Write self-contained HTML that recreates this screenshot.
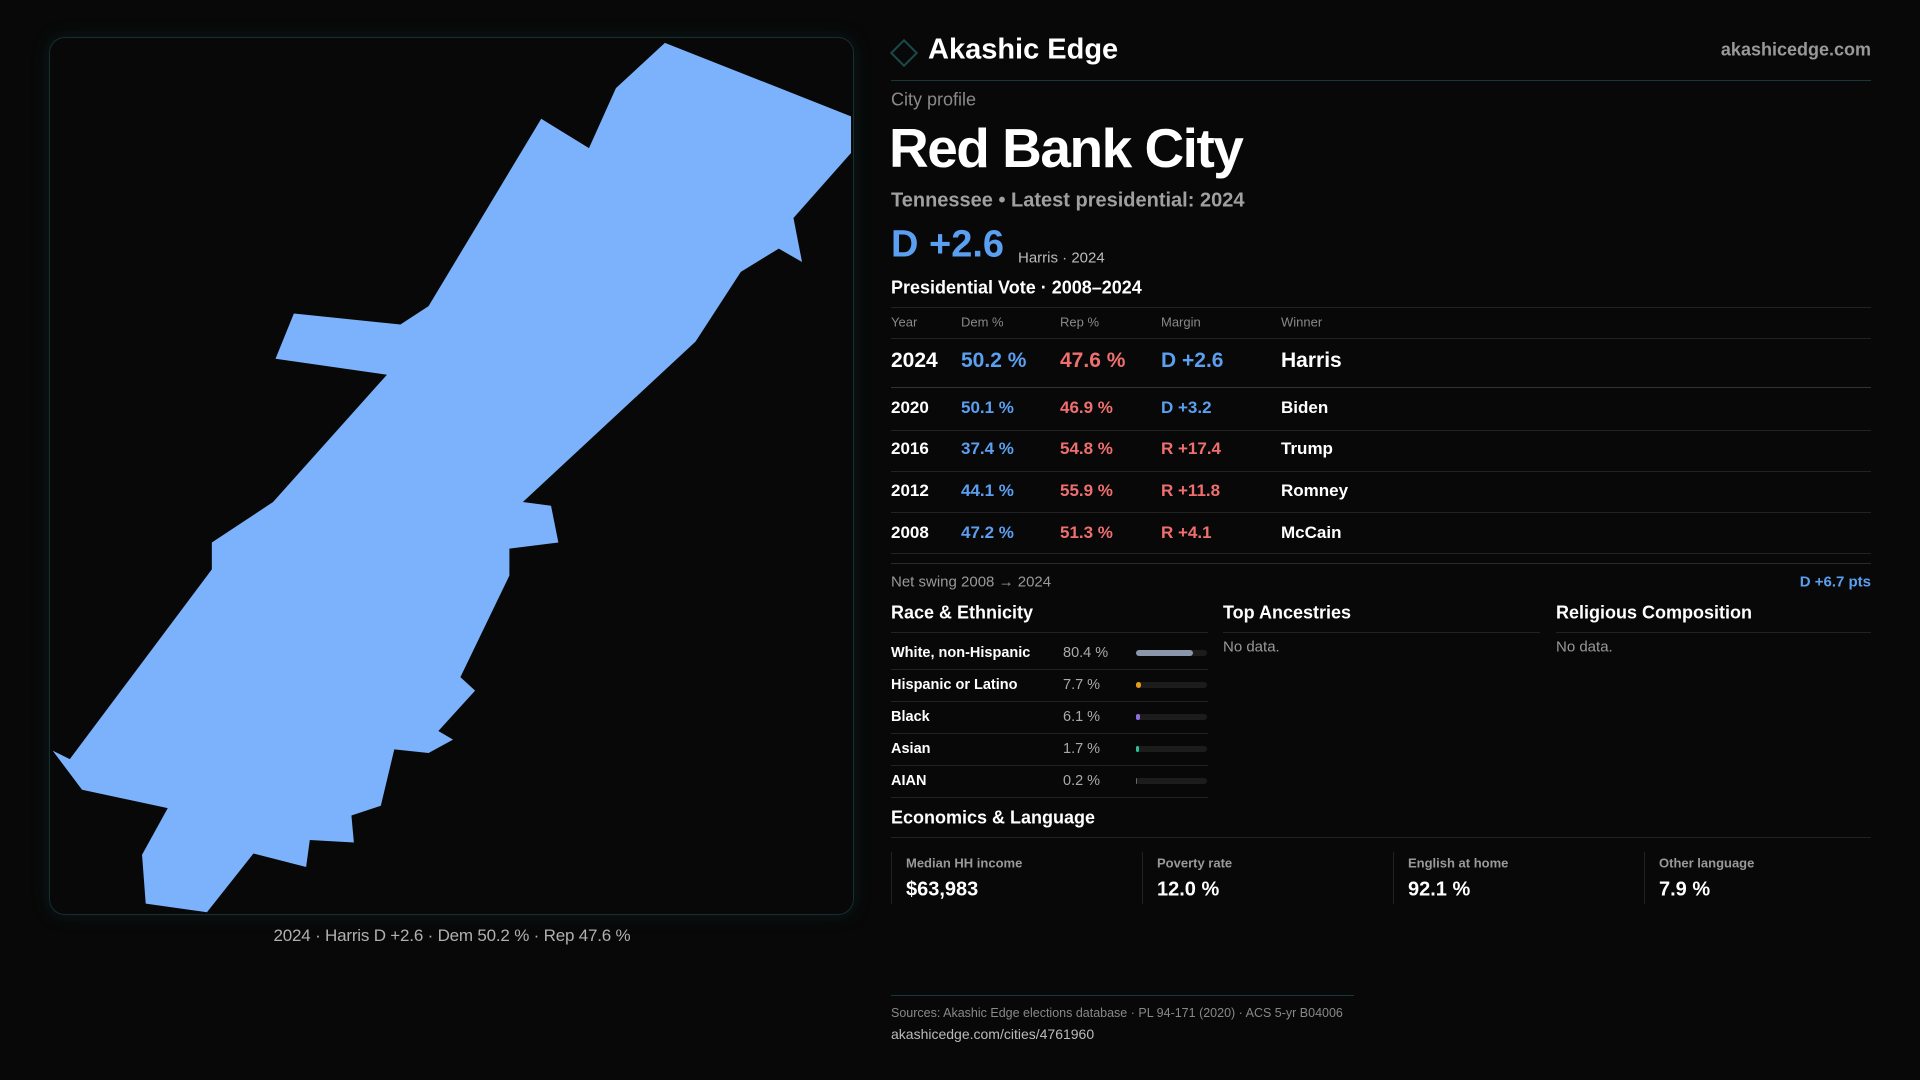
<!DOCTYPE html>
<html><head><meta charset="utf-8">
<style>
*{margin:0;padding:0;box-sizing:border-box}
body{width:1920px;height:1080px;background:#080808;font-family:"Liberation Sans",sans-serif;color:#fff;position:relative;overflow:hidden}
.a{position:absolute;white-space:nowrap}
.mid{transform:translateY(-50%)}
.muted{color:#8a8a8a}
.blue{color:#5b9ff0}.red{color:#ef6f6f}
.hl{position:absolute;height:1px;background:#222}
</style></head><body>
<div class="a" style="left:49px;top:37px;width:805px;height:878px;border:1px solid #15302f;border-radius:16px;box-shadow:0 0 18px rgba(20,80,80,0.25)"></div>
<svg class="a" style="left:0;top:0" width="1920" height="1080" viewBox="0 0 1568 882">
<polygon fill="#7bb2fb" points="543,35 695,95 695,125 648,178 655,214 636,203 605,222 568,279 427,410 450,413 456,443 416,448 416,470 376,553 388,564 358,597 370,604 350,615 322,612 311,658 287,666 289,688 253,686 250,708 207,697 169,745 119,738 116,698 137,660 67,645 43,613 57,620 173,465 173,443 223,410 316,306 225,293 240,256 327,265 350,250 442,97 481,121 503,72"/>
</svg>
<div class="a mid" style="left:452px;top:936px;transform:translate(-50%,-50%);font-size:17px;color:#b0b0b0;letter-spacing:-0.2px">2024 · Harris D +2.6 · Dem 50.2 % · Rep 47.6 %</div>

<div class="a" style="left:894px;top:43px;width:20px;height:20px;border:2px solid #1a4a4a;transform:rotate(45deg)"></div>
<div class="a mid" style="left:928px;top:50px;font-size:29px;font-weight:bold">Akashic Edge</div>
<div class="a mid" style="right:49px;top:50px;font-size:18px;color:#999;font-weight:bold">akashicedge.com</div>
<div class="hl" style="left:891px;top:80px;width:980px;background:#163838"></div>
<div class="a mid muted" style="left:891px;top:100px;font-size:18px">City profile</div>
<div class="a mid" style="left:889px;top:148px;font-size:55px;font-weight:bold;letter-spacing:-1.5px">Red Bank City</div>
<div class="a mid" style="left:891px;top:201px;font-size:20px;font-weight:bold;color:#a0a0a0">Tennessee • Latest presidential: 2024</div>
<div class="a mid blue" style="left:891px;top:245px;font-size:38px;font-weight:bold">D +2.6</div>
<div class="a mid" style="left:1018px;top:258px;font-size:15px;color:#bbb">Harris · 2024</div>
<div class="a mid" style="left:891px;top:288px;font-size:18px;font-weight:bold">Presidential Vote · 2008–2024</div>
<div class="hl" style="left:891px;top:307px;width:980px"></div>
<div id="vt"></div>
<div class="hl" style="left:891px;top:563px;width:980px;background:#2a2a2a"></div>
<div class="a mid" style="left:891px;top:582px;font-size:15px;color:#999">Net swing 2008 → 2024</div>
<div class="a mid blue" style="right:49px;top:582px;font-size:15px;font-weight:bold">D +6.7 pts</div>

<div class="a mid" style="left:891px;top:613px;font-size:18px;font-weight:bold">Race &amp; Ethnicity</div>
<div class="a mid" style="left:1223px;top:613px;font-size:18px;font-weight:bold">Top Ancestries</div>
<div class="a mid" style="left:1556px;top:613px;font-size:18px;font-weight:bold">Religious Composition</div>
<div class="hl" style="left:891px;top:632px;width:317px"></div>
<div class="hl" style="left:1223px;top:632px;width:317px"></div>
<div class="hl" style="left:1556px;top:632px;width:315px"></div>
<div class="a mid" style="left:1223px;top:647px;font-size:15px;color:#999">No data.</div>
<div class="a mid" style="left:1556px;top:647px;font-size:15px;color:#999">No data.</div>
<div id="race"></div>

<div class="a mid" style="left:891px;top:818px;font-size:18px;font-weight:bold">Economics &amp; Language</div>
<div class="hl" style="left:891px;top:837px;width:980px"></div>
<div id="econ"></div>

<div class="hl" style="left:891px;top:995px;width:463px;background:#163838"></div>
<div class="a mid" style="left:891px;top:1013px;font-size:12.5px;color:#888">Sources: Akashic Edge elections database · PL 94-171 (2020) · ACS 5-yr B04006</div>
<div class="a mid" style="left:891px;top:1034px;font-size:14px;color:#bbb">akashicedge.com/cities/4761960</div>

<script>
const years=["2024","2020","2016","2012","2008"];
const demPct=[50.2,50.1,37.4,44.1,47.2];
const repPct=[47.6,46.9,54.8,55.9,51.3];
const winners=["Harris","Biden","Trump","Romney","McCain"];
const raceLabels=["White, non-Hispanic","Hispanic or Latino","Black","Asian","AIAN"];
const racePct=[80.4,7.7,6.1,1.7,0.2];
const raceColors=["#8a96aa","#e69a1a","#8d6ee0","#2fbf98","#666"];
const econLabels=["Median HH income","Poverty rate","English at home","Other language"];
const econValues=["$63,983","12.0 %","92.1 %","7.9 %"];

function txt(parent,name,s,x,y,size,color,bold){
  const d=document.createElement('div');
  d.className='a mid';
  
  
  d.textContent=s;
  d.style.cssText+=`left:${x}px;top:${y}px;font-size:${size}px;color:${color};font-weight:${bold?'bold':'normal'}`;
  parent.appendChild(d);return d;
}
const vt=document.getElementById('vt');
const cols=[891,961,1060,1161,1281];
["Year","Dem %","Rep %","Margin","Winner"].forEach((h,i)=>txt(vt,'table-header',h,cols[i],322,13,'#888',false));
const hl0=document.createElement('div');hl0.className='hl';hl0.style.cssText='left:891px;top:338px;width:980px';vt.appendChild(hl0);
const rowY=[361,408,449,491,533];
years.forEach((y,i)=>{
  const big=i===0, sz=big?21:17;
  const m=demPct[i]-repPct[i];
  const mt=(m>=0?'D +':'R +')+Math.abs(m).toFixed(1);
  const mc=m>=0?'#5b9ff0':'#ef6f6f';
  txt(vt,'year-'+y,y,cols[0],rowY[i],sz,'#fff',true);
  txt(vt,'dem-pct-'+y,demPct[i].toFixed(1)+' %',cols[1],rowY[i],sz,'#5b9ff0',true);
  txt(vt,'rep-pct-'+y,repPct[i].toFixed(1)+' %',cols[2],rowY[i],sz,'#ef6f6f',true);
  txt(vt,'margin-'+y,mt,cols[3],rowY[i],sz,mc,true);
  txt(vt,'winner-'+y,winners[i],cols[4],rowY[i],sz,'#fff',true);
  const l=document.createElement('div');l.className='hl';
  l.style.cssText=`left:891px;top:${[387,430,471,512,553][i]}px;width:980px;background:${big?'#333':'#222'}`;
  vt.appendChild(l);
});
const race=document.getElementById('race');
const bx=1136,bw=71;
raceLabels.forEach((r,i)=>{
  const y=653+i*32;
  txt(race,'race-label',r,891,y,14.5,'#fff',true);
  txt(race,'race-pct',racePct[i].toFixed(1)+' %',1063,y,14.5,'#aaa',false);
  const tr=document.createElement('div');
  
  
  tr.style.cssText=`position:absolute;left:${bx}px;top:${y-3}px;width:${bw}px;height:6px;border-radius:3px;background:#1c1c1c`;
  race.appendChild(tr);
  const b=document.createElement('div');
  
  
  b.style.cssText=`position:absolute;left:${bx}px;top:${y-3}px;width:${Math.max(bw*racePct[i]/100,racePct[i]>1?3:0)}px;height:6px;border-radius:3px;background:${raceColors[i]}`;
  race.appendChild(b);
  const l=document.createElement('div');l.className='hl';
  l.style.cssText=`left:891px;top:${y+16}px;width:317px`;race.appendChild(l);
});
const econ=document.getElementById('econ');
econLabels.forEach((e,i)=>{
  const x=891+i*251;
  const bd=document.createElement('div');
  
  
  bd.style.cssText=`position:absolute;left:${x}px;top:852px;width:1px;height:52px;background:#222`;
  econ.appendChild(bd);
  txt(econ,'stat-label',e,x+15,863,13,'#999',true);
  txt(econ,'stat-value',econValues[i],x+15,890,20,'#fff',true);
});
</script>
</body></html>
